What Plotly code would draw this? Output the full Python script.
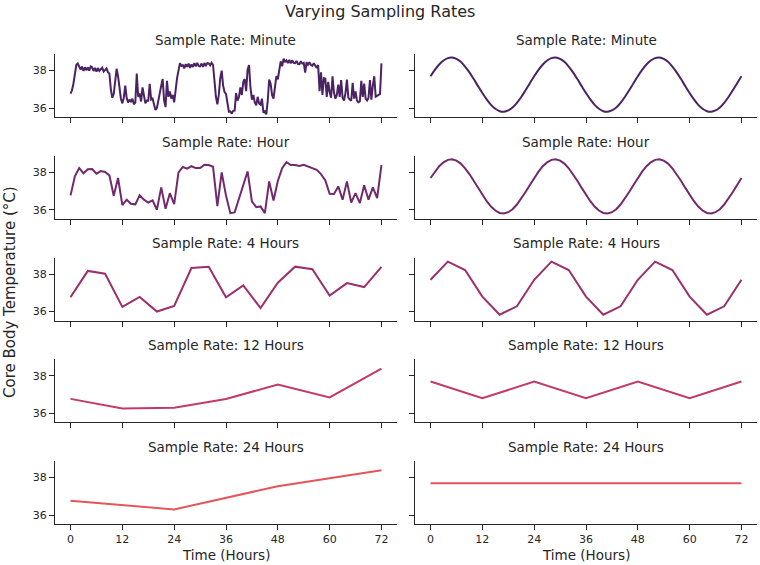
import plotly.graph_objects as go

# ---------------- data ----------------
row_titles = ["Sample Rate: Minute", "Sample Rate: Hour", "Sample Rate: 4 Hours",
              "Sample Rate: 12 Hours", "Sample Rate: 24 Hours"]
row_colors = ["#4b2362", "#722a6e", "#9c2f6d", "#c43a66", "#e3555a"]
x_ticks = [0, 12, 24, 36, 48, 60, 72]
y_ticks = [36, 38]

minute_temp = [
    36.77, 36.95, 37.30, 37.79, 38.30, 38.38, 38.23, 38.05, 38.22, 37.98, 38.18, 38.02,
    38.17, 38.00, 38.22, 38.18, 37.98, 38.15, 37.95, 38.14, 37.98, 38.07, 38.16, 37.95,
    38.02, 38.12, 37.92, 37.84, 37.00, 36.55, 36.75, 37.60, 38.10, 37.70, 36.90, 36.50,
    36.25, 36.55, 37.20, 36.54, 36.30, 36.45, 36.32, 36.50, 36.20, 36.29, 37.85, 36.60,
    36.78, 36.35, 37.10, 36.54, 36.25, 36.40, 36.39, 37.30, 36.45, 36.50, 36.10, 35.90,
    36.00, 36.40, 37.00, 37.20, 37.55, 36.40, 36.05, 37.45, 36.60, 36.89, 36.50, 36.70,
    36.30, 37.00, 37.60, 38.00, 38.40, 38.25, 38.29, 38.12, 38.35, 38.20, 38.38, 38.15,
    38.33, 38.20, 38.40, 38.23, 38.42, 38.25, 38.23, 38.38, 38.20, 38.41, 38.25, 38.40,
    38.39, 38.28, 38.42, 38.30, 37.40, 36.60, 36.20, 36.70, 37.60, 38.00, 37.20, 36.85,
    36.76, 36.20, 35.80, 35.82, 35.70, 35.85, 35.86, 36.80, 36.40, 36.59, 37.10, 36.70,
    37.40, 37.55, 36.90, 38.05, 38.30, 37.10, 36.45, 36.70, 36.30, 36.14, 36.60, 36.25,
    36.18, 36.50, 35.75, 35.82, 35.66, 36.40, 37.52, 37.30, 36.70, 36.50, 37.10, 37.70,
    37.54, 38.00, 38.50, 38.23, 38.64, 38.45, 38.55, 38.40, 38.58, 38.39, 38.55, 38.42,
    38.40, 38.52, 38.35, 38.34, 38.50, 38.38, 38.41, 37.90, 38.45, 38.32, 38.45, 38.30,
    38.26, 38.40, 38.28, 38.14, 38.30, 36.90, 37.91, 36.70, 37.60, 37.57, 36.60, 37.40,
    36.85, 36.55, 37.70, 36.84, 36.50, 36.70, 37.25, 36.60, 37.50, 36.54, 36.40, 36.80,
    37.52, 36.55, 36.45, 36.39, 37.35, 36.50, 36.89, 36.40, 36.30, 36.36, 37.45, 36.60,
    37.31, 36.50, 36.40, 36.54, 37.50, 36.45, 37.20, 37.70, 36.60, 36.63, 36.70, 36.75,
    38.39,
]
minute_time = [k / 3 for k in range(len(minute_temp))]

hours = list(range(73))
hourly_temp = [
    36.77, 37.79, 38.23, 37.95, 38.17, 38.18, 37.93, 38.07, 38.02, 37.84, 36.75, 37.70,
    36.25, 36.54, 36.32, 36.29, 36.78, 36.54, 36.39, 36.50, 36.00, 37.20, 36.05, 36.89,
    36.30, 38.00, 38.29, 38.20, 38.33, 38.23, 38.23, 38.41, 38.39, 38.30, 36.20, 38.00,
    36.76, 35.82, 35.86, 36.59, 37.40, 38.05, 36.45, 36.14, 36.18, 35.82, 37.52, 36.50,
    37.54, 38.23, 38.55, 38.39, 38.40, 38.34, 38.41, 38.32, 38.26, 38.14, 37.91, 37.57,
    36.85, 36.84, 37.25, 36.54, 37.52, 36.39, 36.89, 36.36, 37.31, 36.54, 37.20, 36.63,
    38.39,
]

# right column: idealised circadian rhythm, hourly values
rhythm_temp = [
    37.70, 38.04, 38.33, 38.54, 38.67, 38.70, 38.63, 38.47, 38.22, 37.91, 37.55, 37.17,
    36.80, 36.46, 36.17, 35.96, 35.83, 35.80, 35.87, 36.03, 36.28, 36.59, 36.95, 37.33,
    37.70, 38.04, 38.33, 38.54, 38.67, 38.70, 38.63, 38.47, 38.22, 37.91, 37.55, 37.17,
    36.80, 36.46, 36.17, 35.96, 35.83, 35.80, 35.87, 36.03, 36.28, 36.59, 36.95, 37.33,
    37.70, 38.04, 38.33, 38.54, 38.67, 38.70, 38.63, 38.47, 38.22, 37.91, 37.55, 37.17,
    36.80, 36.46, 36.17, 35.96, 35.83, 35.80, 35.87, 36.03, 36.28, 36.59, 36.95, 37.33,
    37.70,
]
sample_steps = [1, 1, 4, 12, 24]  # hourly subsampling for rows 2-5

# ---------------- layout geometry ----------------
W, H = 760, 565
col_px = [(55, 397), (415, 757)]
row_top_px = [54, 155.75, 257.5, 359.25, 461]
row_h_px = 63
INK = "#262626"
FONT = "DejaVu Sans"

fig = go.Figure()
layout = dict(
    width=W, height=H, margin=dict(l=0, r=0, t=0, b=0),
    paper_bgcolor="white", plot_bgcolor="white", showlegend=False,
    font=dict(family=FONT, color=INK, size=11),
)
annotations = []

for r in range(5):
    top = row_top_px[r]
    ydom = [1 - (top + row_h_px) / H, 1 - top / H]
    for c in range(2):
        idx = r * 2 + c + 1
        xa = "xaxis" if idx == 1 else f"xaxis{idx}"
        ya = "yaxis" if idx == 1 else f"yaxis{idx}"
        xref = "x" if idx == 1 else f"x{idx}"
        yref = "y" if idx == 1 else f"y{idx}"
        x0, x1 = col_px[c]
        layout[xa] = dict(
            domain=[x0 / W, x1 / W], anchor=yref, range=[-3.6, 75.6],
            tickvals=x_ticks, ticktext=[str(v) for v in x_ticks],
            showticklabels=(r == 4), ticks="outside", ticklen=5, tickwidth=1.25,
            tickcolor=INK, showline=True, linecolor=INK, linewidth=1.25,
            showgrid=False, zeroline=False, tickfont=dict(size=11, color=INK, family=FONT),
        )
        layout[ya] = dict(
            domain=ydom, anchor=xref, range=[35.52, 38.89],
            tickvals=y_ticks, ticktext=[str(v) for v in y_ticks],
            showticklabels=(c == 0), ticks="outside", ticklen=5, tickwidth=1.25,
            tickcolor=INK, showline=True, linecolor=INK, linewidth=1.25,
            showgrid=False, zeroline=False, tickfont=dict(size=11, color=INK, family=FONT),
        )
        # data
        if c == 0:
            if r == 0:
                xs, ys = minute_time, minute_temp
            else:
                s = sample_steps[r]
                xs, ys = hours[::s], hourly_temp[::s]
            shape = "linear"
        else:
            s = sample_steps[r]
            xs, ys = hours[::s], rhythm_temp[::s]
            shape = "spline" if r == 0 else "linear"
        fig.add_trace(go.Scatter(
            x=xs, y=ys, mode="lines", xaxis=xref, yaxis=yref,
            line=dict(color=row_colors[r], width=2, shape=shape),
            hoverinfo="skip",
        ))
        # subplot title
        annotations.append(dict(
            text=row_titles[r], xref="paper", yref="paper",
            x=(x0 + x1) / 2 / W, y=1 - top / H, yanchor="bottom", yshift=4,
            xanchor="center", showarrow=False, font=dict(size=13.5, color=INK, family=FONT),
        ))

for c in range(2):
    x0, x1 = col_px[c]
    annotations.append(dict(
        text="Time (Hours)", xref="paper", yref="paper",
        x=(x0 + x1) / 2 / W, y=1 - 555 / H, yanchor="middle", xanchor="center",
        showarrow=False, font=dict(size=13.5, color=INK, family=FONT),
    ))

annotations.append(dict(
    text="Core Body Temperature (°C)", xref="paper", yref="paper",
    x=10 / W, y=1 - 292 / H, textangle=-90, xanchor="center", yanchor="middle",
    showarrow=False, font=dict(size=15, color=INK, family=FONT),
))
annotations.append(dict(
    text="Varying Sampling Rates", xref="paper", yref="paper",
    x=0.5, y=1 - 12 / H, xanchor="center", yanchor="middle",
    showarrow=False, font=dict(size=16, color=INK, family=FONT),
))
layout["annotations"] = annotations
fig.update_layout(**layout)
fig.write_html("out.html")
